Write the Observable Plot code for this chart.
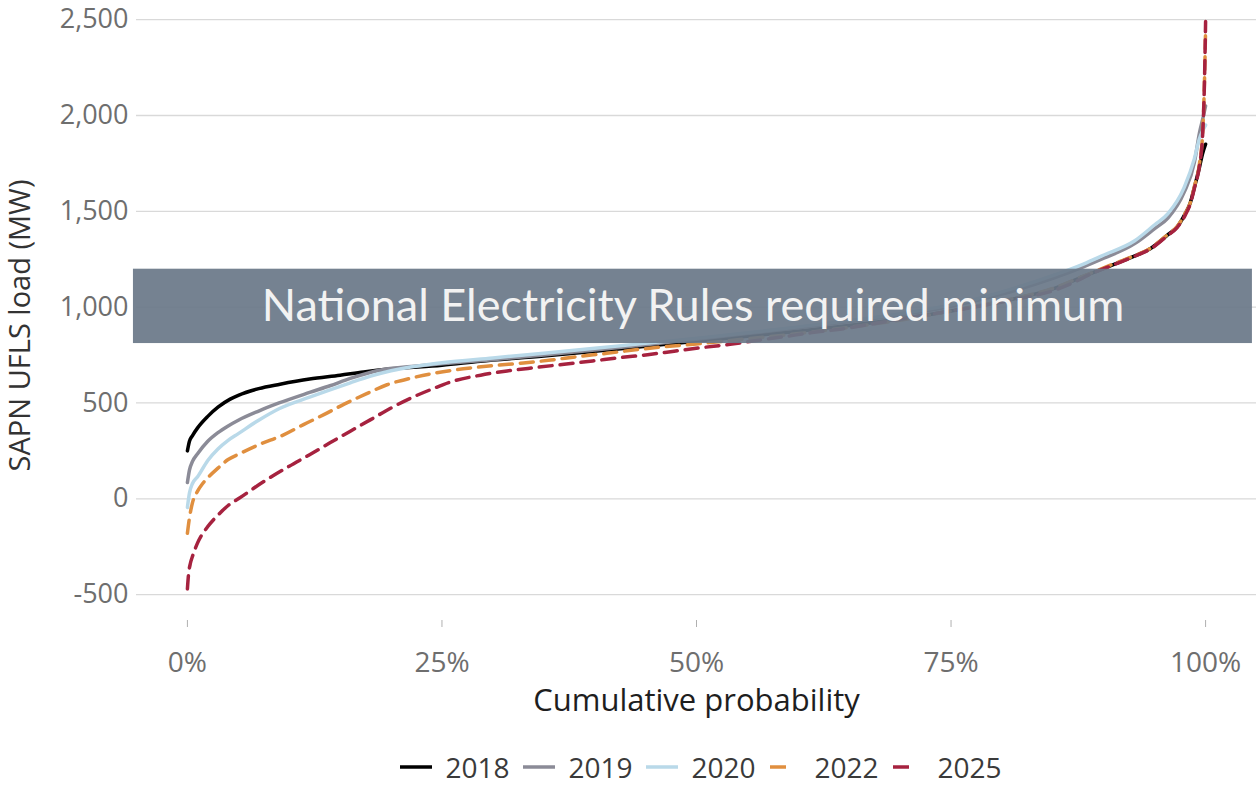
<!DOCTYPE html>
<html>
<head>
<meta charset="utf-8">
<script src="https://cdn.jsdelivr.net/npm/d3@7"></script>
<script src="https://cdn.jsdelivr.net/npm/@observablehq/plot@0.6"></script>
<style>
  html, body { margin: 0; padding: 0; background: #fff; overflow: hidden; }
  #chart { width: 1256px; }
  .legend { display: flex; justify-content: center; align-items: center; height: 38px; line-height: 38px; padding-top: 16px;
            font-family: "Open Sans", "Noto Sans", sans-serif; font-size: 28px; color: #3a3a3a; padding-left: 146px; }
  .item { display: flex; align-items: center; margin: 0 7px; height: 38px; }
  .item svg { margin-right: 13px; }
</style>
</head>
<body>
<div id="chart"></div>
<script>
// ---- data ----
const years = ["2018", "2019", "2020", "2022", "2025"];
const colors = ["#000000", "#8b8b97", "#b9d9e9", "#e08f3f", "#a6223f"];
const dashed = [false, false, false, true, true];

const p2018 = [0, 0.2, 0.5, 1, 2, 3, 4.2, 5, 7, 9.1, 12, 15, 17.3, 20, 25, 28.8, 35, 40, 45, 50, 55, 60, 65, 70, 75, 80, 85, 88, 90.7, 93, 94.6, 96.3, 97.2, 98, 98.5, 98.9, 99.4, 99.7, 100];
const v2018 = [250, 300, 330, 370, 430, 478, 520, 540, 575, 598, 625, 645, 662, 678, 697, 718, 745, 770, 796, 822, 848, 874, 904, 938, 980, 1030, 1095, 1160, 1217, 1266, 1306, 1378, 1418, 1488, 1545, 1625, 1730, 1800, 1850];

const p2019 = [0, 0.2, 0.5, 1, 2, 3, 4, 5, 7, 9, 12, 14, 16, 19, 22, 25, 30, 35, 40, 45, 50, 55, 60, 65, 70, 75, 80, 85, 88, 90, 93, 95, 96.3, 97.9, 98.9, 99.4, 99.8, 100];
const v2019 = [85, 150, 195, 235, 300, 345, 380, 410, 458, 500, 555, 590, 628, 672, 690, 705, 726, 750, 776, 804, 833, 862, 892, 925, 960, 1005, 1068, 1150, 1210, 1255, 1330, 1410, 1465, 1600, 1755, 1910, 2000, 2050];

const p2020 = [0, 0.2, 0.5, 1, 2, 3, 4, 5, 7, 9, 12, 14, 16, 18, 20, 25, 30, 35, 40, 45, 50, 55, 60, 65, 70, 75, 80, 85, 88, 90, 93, 95, 96.3, 97.9, 98.9, 99.4, 99.8, 100];
const v2020 = [-45, 30, 80, 115, 200, 260, 305, 340, 410, 470, 530, 568, 605, 640, 668, 710, 735, 760, 785, 811, 838, 866, 897, 930, 966, 1012, 1080, 1165, 1225, 1272, 1345, 1430, 1488, 1625, 1775, 1880, 1930, 1950];

const p2022 = [0, 0.2, 0.5, 1, 1.5, 2, 3, 4, 5, 7, 9.5, 11.4, 13.4, 15.4, 17.5, 19.6, 21.9, 24.2, 27.1, 30, 33, 35.7, 38.3, 41.2, 43.8, 46.8, 50, 55, 60, 65, 70, 75, 80, 85, 88, 90.7, 93, 94.6, 96.3, 97.2, 98, 98.5, 98.9, 99.4, 99.7, 99.9, 100];
const v2022 = [-180, -100, -20, 40, 80, 110, 160, 205, 232, 282, 335, 387, 439, 494, 546, 595, 629, 655, 678, 695, 709, 724, 742, 759, 776, 793, 808, 835, 862, 895, 932, 980, 1032, 1098, 1162, 1220, 1268, 1308, 1380, 1420, 1490, 1545, 1630, 1750, 1900, 2200, 2450];

const p2025 = [0, 0.1, 0.3, 0.5, 1, 2, 3, 4, 5, 7.5, 10, 12, 14, 16, 18, 20, 22, 24, 26, 28.8, 31.4, 34.2, 37, 39.8, 42.4, 45.2, 47.8, 50.4, 53.3, 55.9, 58.5, 61.2, 64.1, 66.8, 69.4, 72, 74.6, 77.3, 79.9, 82.5, 84.8, 87.1, 88.7, 90.7, 93, 94.6, 96.3, 97.2, 98, 98.5, 98.9, 99.4, 99.7, 99.9, 100];
const v2025 = [-470, -400, -335, -300, -230, -145, -85, -35, 0, 90, 170, 230, 292, 353, 413, 474, 527, 572, 612, 645, 667, 685, 702, 719, 736, 752, 770, 788, 806, 826, 845, 866, 885, 908, 932, 954, 977, 1000, 1026, 1053, 1082, 1130, 1172, 1215, 1265, 1304, 1375, 1415, 1480, 1540, 1620, 1740, 1890, 2200, 2490];

const probs = [p2018, p2019, p2020, p2022, p2025];
const loads = [v2018, v2019, v2020, v2022, v2025];

const yTicks = [-500, 0, 500, 1000, 1500, 2000, 2500];
const xTicks = [0, 25, 50, 75, 100];

const bandLabel = "National Electricity Rules required minimum";
const band = [{x1: -5.3, x2: 104.6, y1: 810, y2: 1198, label: bandLabel}];

const xTitle = "Cumulative probability";
const yTitle = "SAPN UFLS load (MW)";

// ---- build rows ----
const series = years.map((year, i) => probs[i].map((p, j) => ({year, p, v: loads[i][j]})));

const font = "'Open Sans', 'Noto Sans', sans-serif";
const fmtY = d => d3.format(",")(d).replace("\u2212", "-");

const lineMarks = series.map((rows, i) => Plot.line(rows, {
  x: "p", y: "v", stroke: colors[i], strokeWidth: 3.5,
  strokeDasharray: dashed[i] ? "13,8" : null, curve: "monotone-x"
}));

const chart = Plot.plot({
  width: 1256,
  height: 732,
  marginLeft: 136,
  marginRight: 0,
  marginTop: 0,
  marginBottom: 112,
  style: {fontFamily: font, background: "#fff", overflow: "visible"},
  x: {domain: [-5, 105]},
  y: {domain: [-635, 2600]},
  marks: [
    Plot.gridY(yTicks, {stroke: "#d9d9d9", strokeWidth: 1.3, strokeOpacity: 1}),
    Plot.axisY(yTicks, {tickSize: 0, tickPadding: 8, tickFormat: fmtY, fontSize: 27, fill: "#6e6e6e", label: null}),
    Plot.axisX(xTicks, {tickSize: 7, tickPadding: 25, stroke: "#b0b0b0", tickFormat: d => d + "%", fontSize: 28, fill: "#6e6e6e", label: null}),
    ...lineMarks,
    Plot.rect(band, {x1: "x1", x2: "x2", y1: "y1", y2: "y2", fill: "#6a7989", fillOpacity: 0.93}),
    Plot.text(band, {x: d => (d.x1 + d.x2) / 2, y: d => (d.y1 + d.y2) / 2, text: "label",
      fill: "#f2f2f2", fontSize: 45, fontFamily: "Lato, 'Open Sans', sans-serif"}),
    Plot.text([xTitle], {frameAnchor: "bottom", dy: 90, fontSize: 31, fill: "#1e1e1e", text: d => d}),
    Plot.text([yTitle], {frameAnchor: "left", textAnchor: "middle", dx: -116, dy: 15, rotate: -90, fontSize: 29, fill: "#333", text: d => d})
  ]
});

document.getElementById("chart").appendChild(chart);

// ---- legend ----
const legend = document.createElement("div");
legend.className = "legend";
years.forEach((year, i) => {
  const item = document.createElement("span");
  item.className = "item";
  const dash = dashed[i] ? `stroke-dasharray="16,30"` : "";
  item.innerHTML = `<svg width="32" height="8"><line x1="0" y1="4" x2="32" y2="4" stroke="${colors[i]}" stroke-width="3.5" ${dash}/></svg><span>${year}</span>`;
  legend.appendChild(item);
});
document.getElementById("chart").appendChild(legend);
</script>
</body>
</html>
